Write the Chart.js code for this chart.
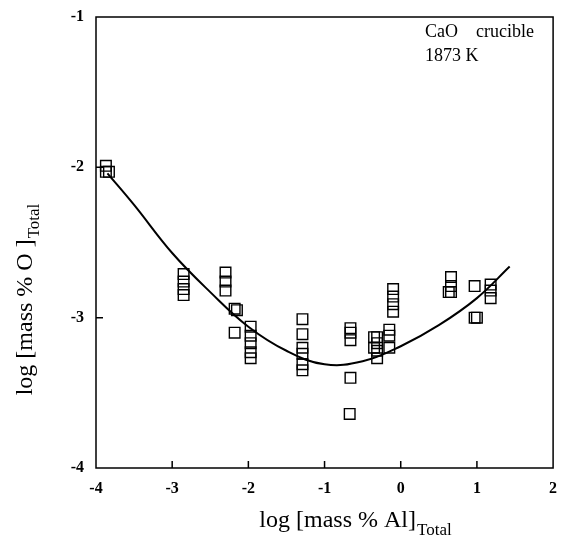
<!DOCTYPE html>
<html>
<head>
<meta charset="utf-8">
<script src="https://cdn.jsdelivr.net/npm/chart.js@4"></script>
<style>
  html, body { margin: 0; padding: 0; background: #fff; }
  #wrap { width: 562px; height: 535px; }
</style>
</head>
<body>
<div id="wrap"><canvas id="myChart" width="562" height="535"></canvas></div>
<script>
// measured points, log [mass % Al] vs log [mass % O]
var alX = [-3.87, -3.87, -3.83,
  -2.85, -2.85, -2.85, -2.85,
  -2.30, -2.30, -2.30,
  -2.18, -2.15, -2.18,
  -1.97, -1.97, -1.97, -1.97, -1.97,
  -1.29, -1.29, -1.29, -1.29, -1.29, -1.29,
  -0.66, -0.66, -0.66, -0.66, -0.67,
  -0.35, -0.35, -0.31, -0.31, -0.31, -0.31,
  -0.15, -0.15, -0.15,
  -0.10, -0.10, -0.10, -0.10,
  0.63, 0.66, 0.66, 0.66,
  0.97, 0.97, 1.00,
  1.18, 1.18, 1.18];
var oY = [-1.99, -2.03, -2.03,
  -2.71, -2.76, -2.81, -2.85,
  -2.70, -2.76, -2.82,
  -2.94, -2.95, -3.10,
  -3.06, -3.12, -3.17, -3.23, -3.27,
  -3.01, -3.11, -3.20, -3.24, -3.31, -3.35,
  -3.07, -3.10, -3.15, -3.40, -3.64,
  -3.13, -3.20, -3.13, -3.17, -3.22, -3.27,
  -3.08, -3.12, -3.20,
  -2.81, -2.86, -2.91, -2.96,
  -2.83, -2.73, -2.79, -2.83,
  -2.79, -3.00, -3.00,
  -2.78, -2.82, -2.87];

// fitted curve
var curveX = [-3.85, -3.5, -3.0, -2.5, -2.0, -1.5, -1.0, -0.5, 0.0, 0.5, 1.0, 1.43];
var curveY = [-2.04, -2.25, -2.57, -2.83, -3.06, -3.22, -3.31, -3.29, -3.19, -3.05, -2.87, -2.66];

var xTicks = [-4, -3, -2, -1, 0, 1, 2];
var yTicks = [-4, -3, -2, -1];

var pts = alX.map(function(x, i) { return {x: x, y: oY[i]}; });
var curve = curveX.map(function(x, i) { return {x: x, y: curveY[i]}; });

// frame, inward ticks, axis titles with subscripts, note
var decor = {
  id: 'decor',
  afterDraw: function(chart) {
    var c = chart.ctx, a = chart.chartArea;
    var xs = chart.scales.x, ys = chart.scales.y;
    c.save();
    c.strokeStyle = '#000';
    c.lineWidth = 1.5;
    c.strokeRect(a.left, a.top, a.right - a.left, a.bottom - a.top);
    c.beginPath();
    xTicks.slice(1, -1).forEach(function(v) {
      var px = xs.getPixelForValue(v);
      c.moveTo(px, a.bottom);
      c.lineTo(px, a.bottom - 7);
    });
    yTicks.slice(1, -1).forEach(function(v) {
      var py = ys.getPixelForValue(v);
      c.moveTo(a.left, py);
      c.lineTo(a.left + 7, py);
    });
    c.stroke();

    c.fillStyle = '#000';
    c.textBaseline = 'alphabetic';
    // x title
    var main = 'log [mass % Al]';
    c.font = '24px "Liberation Serif"';
    var w1 = c.measureText(main).width;
    c.font = '17px "Liberation Serif"';
    var w2 = c.measureText('Total').width;
    var x0 = 355 - (w1 + w2) / 2;
    c.font = '24px "Liberation Serif"';
    c.fillText(main, x0, 527);
    c.font = '17px "Liberation Serif"';
    c.fillText('Total', x0 + w1 + 1, 535);
    // y title
    c.translate(32, 300);
    c.rotate(-Math.PI / 2);
    main = 'log [mass % O ]';
    c.font = '24px "Liberation Serif"';
    w1 = c.measureText(main).width;
    x0 = -(w1 + w2) / 2;
    c.fillText(main, x0, 0);
    c.font = '17px "Liberation Serif"';
    c.fillText('Total', x0 + w1 + 1, 7);
    c.restore();

    c.save();
    c.fillStyle = '#000';
    c.font = '18px "Liberation Serif"';
    c.fillText('CaO    crucible', 425, 37);
    c.fillText('1873 K', 425, 61);
    c.restore();
  }
};

document.addEventListener('DOMContentLoaded', function() {
  var ctx = document.getElementById('myChart').getContext('2d');
  new Chart(ctx, {
    type: 'scatter',
    data: {
      datasets: [{
        type: 'line',
        data: curve,
        borderColor: '#000',
        borderWidth: 2,
        pointRadius: 0,
        tension: 0.4,
        fill: false
      }, {
        data: pts,
        pointStyle: 'rect',
        pointRadius: 7.5,
        pointBackgroundColor: 'rgba(255,255,255,0)',
        pointBorderColor: '#000',
        pointBorderWidth: 1.4
      }]
    },
    options: {
      responsive: false,
      animation: false,
      layout: { padding: { left: 0, right: 0, top: 17, bottom: 0 } },
      plugins: { legend: { display: false }, tooltip: { enabled: false } },
      scales: {
        x: {
          type: 'linear',
          min: -4, max: 2,
          afterBuildTicks: function(s) { s.ticks = xTicks.map(function(v) { return {value: v}; }); },
          afterFit: function(s) { s.height = 67; s.paddingLeft = 0; s.paddingRight = 0; },
          grid: { display: false, drawTicks: false },
          border: { display: false },
          ticks: { color: '#000', padding: 11, font: { family: 'Liberation Serif', size: 16, weight: 'bold' } }
        },
        y: {
          type: 'linear',
          min: -4, max: -1,
          afterBuildTicks: function(s) { s.ticks = yTicks.map(function(v) { return {value: v}; }); },
          afterFit: function(s) { s.width = 96; s.paddingTop = 0; s.paddingBottom = 0; },
          grid: { display: false, drawTicks: false },
          border: { display: false },
          ticks: { color: '#000', padding: 12, font: { family: 'Liberation Serif', size: 16, weight: 'bold' } }
        }
      }
    },
    plugins: [decor]
  });
});
</script>
</body>
</html>
